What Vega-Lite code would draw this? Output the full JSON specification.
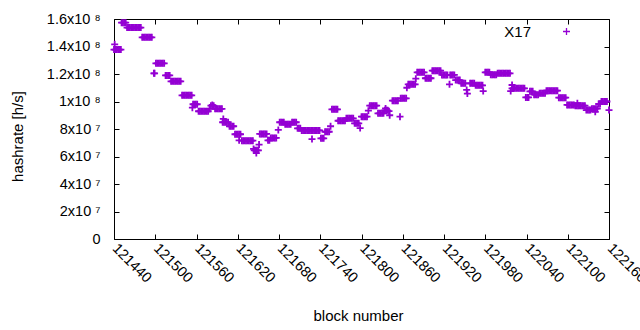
{
"$schema": "https://vega.github.io/schema/vega-lite/v6.json",
"width": 495, "height": 220,
"autosize": {"type": "none"},
"padding": {"left": 114, "top": 19, "right": 31, "bottom": 91},
"background": "white",
"config": {
  "font": "Liberation Sans",
  "view": {"stroke": "black", "strokeWidth": 1},
  "axis": {"domain": false, "grid": false, "tickColor": "black", "tickSize": -5, "tickWidth": 1, "labelColor": "black", "labelFontSize": 14.5, "titleColor": "black", "titleFontSize": 15, "titleFontWeight": "normal"}
},
"data": {"values": [
{"b":121440,"h":1.378e8},{"b":121442,"h":1.378e8},{"b":121444,"h":1.378e8},{"b":121446,"h":1.378e8},{"b":121448,"h":1.378e8},{"b":121450,"h":1.378e8},
{"b":121441,"h":1.416e8},
{"b":121451,"h":1.573e8},{"b":121453,"h":1.573e8},{"b":121455,"h":1.573e8},{"b":121457,"h":1.573e8},
{"b":121459,"h":1.538e8},{"b":121461,"h":1.538e8},{"b":121463,"h":1.538e8},{"b":121465,"h":1.538e8},{"b":121467,"h":1.538e8},{"b":121469,"h":1.538e8},{"b":121471,"h":1.538e8},{"b":121473,"h":1.538e8},{"b":121475,"h":1.538e8},{"b":121477,"h":1.538e8},{"b":121479,"h":1.538e8},
{"b":121481,"h":1.467e8},{"b":121483,"h":1.467e8},{"b":121485,"h":1.467e8},{"b":121487,"h":1.467e8},{"b":121489,"h":1.467e8},{"b":121491,"h":1.467e8},{"b":121493,"h":1.467e8},{"b":121495,"h":1.467e8},
{"b":121498,"h":1.205e8},{"b":121499,"h":1.205e8},
{"b":121501,"h":1.278e8},{"b":121503,"h":1.278e8},{"b":121505,"h":1.278e8},{"b":121507,"h":1.278e8},{"b":121509,"h":1.278e8},{"b":121511,"h":1.278e8},{"b":121513,"h":1.278e8},
{"b":121515,"h":1.19e8},{"b":121517,"h":1.19e8},{"b":121519,"h":1.19e8},{"b":121521,"h":1.19e8},
{"b":121523,"h":1.147e8},{"b":121525,"h":1.147e8},{"b":121527,"h":1.147e8},{"b":121529,"h":1.147e8},{"b":121531,"h":1.147e8},{"b":121533,"h":1.147e8},{"b":121535,"h":1.147e8},{"b":121537,"h":1.147e8},
{"b":121539,"h":1.045e8},{"b":121541,"h":1.045e8},{"b":121543,"h":1.045e8},{"b":121545,"h":1.045e8},{"b":121547,"h":1.045e8},{"b":121549,"h":1.045e8},{"b":121551,"h":1.045e8},{"b":121553,"h":1.045e8},
{"b":121554,"h":9.55e7},
{"b":121555,"h":9.8e7},{"b":121557,"h":9.8e7},{"b":121559,"h":9.8e7},{"b":121561,"h":9.8e7},
{"b":121563,"h":9.29e7},{"b":121565,"h":9.29e7},{"b":121567,"h":9.29e7},{"b":121569,"h":9.29e7},{"b":121571,"h":9.29e7},{"b":121573,"h":9.29e7},{"b":121575,"h":9.29e7},{"b":121577,"h":9.29e7},
{"b":121579,"h":9.47e7},{"b":121581,"h":9.7e7},{"b":121583,"h":9.75e7},{"b":121585,"h":9.7e7},
{"b":121587,"h":9.47e7},{"b":121589,"h":9.47e7},{"b":121591,"h":9.47e7},{"b":121593,"h":9.47e7},{"b":121595,"h":9.47e7},{"b":121597,"h":9.47e7},
{"b":121599,"h":8.73e7},
{"b":121598,"h":8.49e7},{"b":121600,"h":8.49e7},{"b":121602,"h":8.49e7},{"b":121604,"h":8.49e7},{"b":121606,"h":8.49e7},
{"b":121608,"h":8.2e7},{"b":121610,"h":8.2e7},{"b":121612,"h":8.2e7},{"b":121614,"h":8.2e7},
{"b":121616,"h":7.62e7},{"b":121618,"h":7.62e7},{"b":121620,"h":7.62e7},{"b":121622,"h":7.62e7},{"b":121624,"h":7.62e7},
{"b":121622,"h":7.18e7},
{"b":121626,"h":7.15e7},{"b":121628,"h":7.15e7},{"b":121630,"h":7.15e7},{"b":121632,"h":7.15e7},{"b":121634,"h":7.15e7},{"b":121636,"h":7.15e7},{"b":121638,"h":7.15e7},{"b":121640,"h":7.15e7},{"b":121642,"h":7.15e7},
{"b":121643,"h":6.55e7},
{"b":121644,"h":6.45e7},{"b":121646,"h":6.45e7},{"b":121648,"h":6.45e7},{"b":121650,"h":6.45e7},
{"b":121647,"h":6.25e7},
{"b":121651,"h":6.87e7},
{"b":121652,"h":7.64e7},{"b":121654,"h":7.64e7},{"b":121656,"h":7.64e7},{"b":121658,"h":7.64e7},{"b":121660,"h":7.64e7},{"b":121662,"h":7.64e7},
{"b":121664,"h":7.18e7},{"b":121666,"h":7.18e7},
{"b":121668,"h":7.35e7},{"b":121670,"h":7.35e7},{"b":121672,"h":7.35e7},{"b":121674,"h":7.35e7},{"b":121676,"h":7.35e7},
{"b":121679,"h":7.93e7},
{"b":121681,"h":8.49e7},{"b":121683,"h":8.49e7},{"b":121685,"h":8.49e7},{"b":121687,"h":8.49e7},
{"b":121689,"h":8.34e7},{"b":121691,"h":8.34e7},{"b":121693,"h":8.34e7},{"b":121695,"h":8.34e7},{"b":121697,"h":8.34e7},
{"b":121699,"h":8.49e7},{"b":121701,"h":8.49e7},{"b":121703,"h":8.49e7},{"b":121705,"h":8.49e7},
{"b":121707,"h":8.05e7},{"b":121709,"h":8.05e7},{"b":121711,"h":8.05e7},
{"b":121713,"h":7.9e7},{"b":121715,"h":7.9e7},{"b":121717,"h":7.9e7},{"b":121719,"h":7.9e7},{"b":121721,"h":7.9e7},{"b":121723,"h":7.9e7},{"b":121725,"h":7.9e7},{"b":121727,"h":7.9e7},{"b":121729,"h":7.9e7},{"b":121731,"h":7.9e7},{"b":121733,"h":7.9e7},{"b":121735,"h":7.9e7},{"b":121737,"h":7.9e7},{"b":121739,"h":7.9e7},
{"b":121728,"h":7.27e7},
{"b":121741,"h":7.32e7},{"b":121743,"h":7.32e7},{"b":121745,"h":7.32e7},
{"b":121747,"h":7.8e7},{"b":121749,"h":7.8e7},{"b":121751,"h":7.8e7},{"b":121753,"h":7.8e7},
{"b":121755,"h":8.2e7},
{"b":121757,"h":9.43e7},{"b":121759,"h":9.43e7},{"b":121761,"h":9.43e7},{"b":121763,"h":9.43e7},{"b":121765,"h":9.43e7},
{"b":121766,"h":8.6e7},{"b":121768,"h":8.6e7},{"b":121770,"h":8.6e7},{"b":121772,"h":8.6e7},{"b":121774,"h":8.6e7},{"b":121776,"h":8.6e7},
{"b":121778,"h":8.78e7},{"b":121780,"h":8.78e7},{"b":121782,"h":8.78e7},{"b":121784,"h":8.78e7},{"b":121786,"h":8.78e7},{"b":121788,"h":8.78e7},
{"b":121790,"h":8.41e7},{"b":121792,"h":8.41e7},{"b":121794,"h":8.41e7},{"b":121796,"h":8.41e7},
{"b":121798,"h":8.07e7},
{"b":121800,"h":8.9e7},{"b":121802,"h":8.9e7},{"b":121804,"h":8.9e7},{"b":121806,"h":8.9e7},{"b":121808,"h":8.9e7},
{"b":121810,"h":9.33e7},
{"b":121812,"h":9.7e7},{"b":121814,"h":9.7e7},{"b":121816,"h":9.7e7},{"b":121818,"h":9.7e7},{"b":121820,"h":9.7e7},{"b":121822,"h":9.7e7},
{"b":121824,"h":9.14e7},{"b":121826,"h":9.14e7},{"b":121828,"h":9.14e7},{"b":121830,"h":9.14e7},{"b":121832,"h":9.14e7},
{"b":121834,"h":9.36e7},{"b":121836,"h":9.36e7},{"b":121838,"h":9.36e7},
{"b":121835,"h":9.5e7},
{"b":121840,"h":9.3e7},{"b":121841,"h":9.0e7},
{"b":121845,"h":1.006e8},{"b":121847,"h":1.006e8},{"b":121849,"h":1.006e8},{"b":121851,"h":1.006e8},{"b":121853,"h":1.006e8},
{"b":121856,"h":8.9e7},
{"b":121857,"h":1.023e8},{"b":121859,"h":1.023e8},{"b":121861,"h":1.023e8},{"b":121863,"h":1.023e8},{"b":121865,"h":1.023e8},
{"b":121866,"h":1.10e8},
{"b":121868,"h":1.125e8},{"b":121870,"h":1.125e8},{"b":121872,"h":1.125e8},{"b":121874,"h":1.125e8},{"b":121876,"h":1.125e8},{"b":121878,"h":1.125e8},
{"b":121879,"h":1.166e8},
{"b":121881,"h":1.212e8},{"b":121883,"h":1.212e8},{"b":121885,"h":1.212e8},{"b":121887,"h":1.212e8},{"b":121889,"h":1.212e8},{"b":121891,"h":1.212e8},
{"b":121893,"h":1.169e8},{"b":121895,"h":1.169e8},{"b":121897,"h":1.169e8},{"b":121899,"h":1.169e8},{"b":121901,"h":1.169e8},
{"b":121903,"h":1.224e8},{"b":121905,"h":1.224e8},{"b":121907,"h":1.224e8},{"b":121909,"h":1.224e8},{"b":121911,"h":1.224e8},{"b":121913,"h":1.224e8},{"b":121915,"h":1.224e8},
{"b":121917,"h":1.193e8},{"b":121919,"h":1.193e8},{"b":121921,"h":1.193e8},{"b":121923,"h":1.193e8},{"b":121925,"h":1.193e8},
{"b":121928,"h":1.125e8},
{"b":121929,"h":1.193e8},{"b":121931,"h":1.193e8},{"b":121933,"h":1.193e8},{"b":121935,"h":1.193e8},
{"b":121937,"h":1.156e8},{"b":121939,"h":1.156e8},{"b":121941,"h":1.156e8},{"b":121943,"h":1.156e8},
{"b":121945,"h":1.132e8},{"b":121947,"h":1.132e8},{"b":121949,"h":1.132e8},{"b":121951,"h":1.132e8},
{"b":121953,"h":1.084e8},{"b":121954,"h":1.058e8},
{"b":121958,"h":1.132e8},{"b":121960,"h":1.132e8},{"b":121962,"h":1.132e8},{"b":121964,"h":1.132e8},
{"b":121966,"h":1.118e8},{"b":121968,"h":1.118e8},{"b":121970,"h":1.118e8},{"b":121972,"h":1.118e8},{"b":121974,"h":1.118e8},{"b":121976,"h":1.118e8},
{"b":121977,"h":1.076e8},
{"b":121980,"h":1.212e8},{"b":121982,"h":1.212e8},{"b":121984,"h":1.212e8},{"b":121986,"h":1.212e8},
{"b":121988,"h":1.195e8},{"b":121990,"h":1.195e8},{"b":121992,"h":1.195e8},{"b":121994,"h":1.195e8},{"b":121996,"h":1.195e8},
{"b":121998,"h":1.205e8},{"b":122000,"h":1.205e8},{"b":122002,"h":1.205e8},{"b":122004,"h":1.205e8},{"b":122006,"h":1.205e8},{"b":122008,"h":1.205e8},{"b":122010,"h":1.205e8},{"b":122012,"h":1.205e8},{"b":122014,"h":1.205e8},{"b":122016,"h":1.205e8},
{"b":122017,"h":1.076e8},
{"b":122019,"h":1.12e8},
{"b":122019,"h":1.096e8},{"b":122021,"h":1.096e8},{"b":122023,"h":1.096e8},{"b":122025,"h":1.096e8},{"b":122027,"h":1.096e8},{"b":122029,"h":1.096e8},{"b":122031,"h":1.096e8},{"b":122033,"h":1.096e8},{"b":122035,"h":1.096e8},{"b":122037,"h":1.096e8},
{"b":122039,"h":1.03e8},{"b":122041,"h":1.03e8},{"b":122043,"h":1.03e8},
{"b":122045,"h":1.074e8},{"b":122047,"h":1.074e8},{"b":122049,"h":1.074e8},
{"b":122051,"h":1.05e8},{"b":122053,"h":1.05e8},{"b":122055,"h":1.05e8},{"b":122057,"h":1.05e8},
{"b":122059,"h":1.06e8},{"b":122061,"h":1.06e8},{"b":122063,"h":1.06e8},{"b":122065,"h":1.06e8},{"b":122067,"h":1.06e8},
{"b":122069,"h":1.079e8},{"b":122071,"h":1.079e8},{"b":122073,"h":1.079e8},{"b":122075,"h":1.079e8},{"b":122077,"h":1.079e8},{"b":122079,"h":1.079e8},{"b":122081,"h":1.079e8},{"b":122083,"h":1.079e8},{"b":122085,"h":1.079e8},
{"b":122087,"h":1.028e8},{"b":122089,"h":1.028e8},{"b":122091,"h":1.028e8},{"b":122093,"h":1.028e8},{"b":122095,"h":1.028e8},{"b":122097,"h":1.028e8},
{"b":122099,"h":9.75e7},{"b":122101,"h":9.75e7},{"b":122103,"h":9.75e7},{"b":122105,"h":9.75e7},{"b":122107,"h":9.75e7},{"b":122109,"h":9.75e7},
{"b":122111,"h":9.7e7},{"b":122113,"h":9.7e7},{"b":122115,"h":9.7e7},{"b":122117,"h":9.7e7},{"b":122119,"h":9.7e7},{"b":122121,"h":9.7e7},{"b":122123,"h":9.7e7},{"b":122125,"h":9.7e7},
{"b":122114,"h":9.88e7},
{"b":122127,"h":9.38e7},{"b":122129,"h":9.38e7},{"b":122131,"h":9.38e7},{"b":122133,"h":9.38e7},
{"b":122135,"h":9.48e7},{"b":122137,"h":9.48e7},{"b":122139,"h":9.48e7},{"b":122141,"h":9.48e7},{"b":122143,"h":9.48e7},
{"b":122140,"h":9.25e7},
{"b":122145,"h":9.82e7},{"b":122147,"h":9.82e7},
{"b":122149,"h":1.0e8},{"b":122151,"h":1.0e8},{"b":122153,"h":1.0e8},{"b":122155,"h":1.0e8},{"b":122157,"h":1.0e8},
{"b":122160,"h":9.38e7}
]},
"layer": [
  {
    "mark": {"type": "point", "shape": "M-1,0L1,0M0,-1L0,1", "filled": false, "size": 49, "strokeWidth": 1.8, "opacity": 1},
    "encoding": {
      "x": {"field": "b", "type": "quantitative",
            "scale": {"domain": [121440, 122160], "nice": false, "zero": false},
            "axis": {"orient": "bottom", "title": "block number", "values": [121440,121500,121560,121620,121680,121740,121800,121860,121920,121980,122040,122100,122160],
                     "format": "d", "labelAngle": 45, "labelAlign": "left", "labelBaseline": "middle", "labelPadding": 12, "labelOverlap": false, "labelBound": false, "labelFlush": false,
                     "titleX": 244, "titleY": 76, "titleBaseline": "middle"}},
      "y": {"field": "h", "type": "quantitative",
            "scale": {"domain": [0, 160000000], "nice": false},
            "axis": {"orient": "left", "title": "hashrate [h/s]", "values": [0,20000000,40000000,60000000,80000000,100000000,120000000,140000000,160000000],
                     "labelExpr": "datum.value == 0 ? '0' : (datum.value >= 100000000 ? format(datum.value/100000000, '~g') + 'x10 ⁸' : format(datum.value/10000000, '~g') + 'x10 ⁷')",
                     "labelPadding": 19, "labelOverlap": false, "labelFlush": false,
                     "titleX": -97, "titleY": 117, "titleBaseline": "middle"}},
      "color": {"datum": "X17", "type": "nominal", "scale": {"range": ["#9400D3"]},
                "legend": {"title": null, "orient": "none", "legendX": 445, "legendY": 5, "padding": 0,
                           "symbolType": "M-1,0L1,0M0,-1L0,1", "symbolSize": 49, "symbolStrokeWidth": 1.3, "symbolFillColor": "transparent",
                           "labelFontSize": 15, "labelColor": "black", "labelAlign": "right", "labelOffset": -43}}
    }
  },
  {
    "mark": {"type": "point", "opacity": 0},
    "encoding": {
      "x": {"field": "b", "type": "quantitative", "axis": {"orient": "top", "title": null, "labels": false, "values": [121440,121500,121560,121620,121680,121740,121800,121860,121920,121980,122040,122100,122160]}},
      "y": {"field": "h", "type": "quantitative", "axis": {"orient": "right", "title": null, "labels": false, "values": [0,20000000,40000000,60000000,80000000,100000000,120000000,140000000,160000000]}}
    }
  }
],
"resolve": {"axis": {"x": "independent", "y": "independent"}}
}
